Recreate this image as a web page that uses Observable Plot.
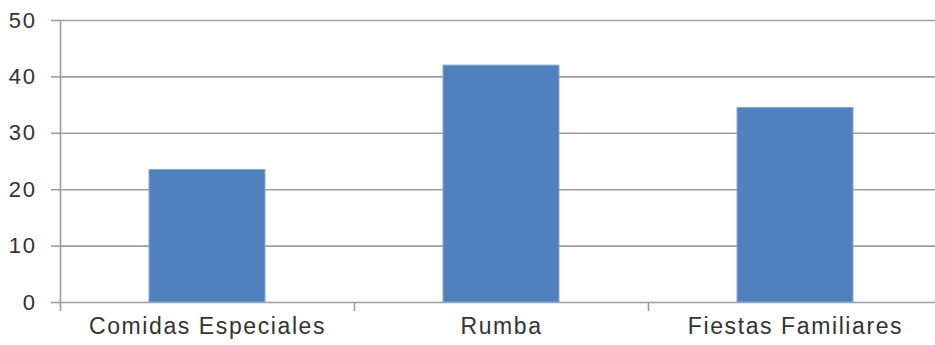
<!DOCTYPE html>
<html>
<head>
<meta charset="utf-8">
<script src="https://cdn.jsdelivr.net/npm/d3@7"></script>
<script src="https://cdn.jsdelivr.net/npm/@observablehq/plot@0.6"></script>
<style>
  html, body { margin: 0; padding: 0; background: #fff; }
  svg text { letter-spacing: 1.6px; }
</style>
</head>
<body>
<div id="chart"></div>
<script>
const categories = ["Comidas Especiales", "Rumba", "Fiestas Familiares"];
const values = [23.5, 42.0, 34.5];
const yTicks = [0, 10, 20, 30, 40, 50];

const data = categories.map((c, i) => ({category: c, value: values[i]}));

const xRange = [60, 942];
const step = (xRange[1] - xRange[0]) / categories.length;
const grid = "#9d9d9d";
const textColor = "#333333";

const chart = Plot.plot({
  width: 935,
  height: 345,
  marginLeft: 60,
  marginRight: 0,
  marginTop: 20,
  marginBottom: 43,
  style: {fontFamily: "'Liberation Sans', Arial, sans-serif", color: textColor, background: "#fff"},
  x: {type: "band", domain: categories, range: xRange, padding: 0},
  y: {domain: [0, 50]},
  marks: [
    Plot.ruleY(yTicks, {stroke: grid, strokeWidth: 1.6}),
    Plot.barY(data, {x: "category", y: "value", fill: "#4f81bd", stroke: "#89a9d6", strokeWidth: 1, insetLeft: 89, insetRight: 89}),
    Plot.ruleX([...categories], {x: d => d, y1: 0, y2: -1.6, dx: -step / 2, stroke: grid, strokeWidth: 1.6}),
    Plot.ruleX([categories[0]], {x: d => d, y1: 0, y2: 50, dx: -step / 2, stroke: grid, strokeWidth: 1.6}),
    Plot.axisY({ticks: yTicks, tickSize: 9, tickPadding: 15, fontSize: 22, stroke: grid, strokeWidth: 1.6, label: null, fill: textColor}),
    Plot.axisX({tickSize: 0, tickPadding: 15, fontSize: 23, label: null, fill: textColor})
  ]
});
document.getElementById("chart").appendChild(chart);
</script>
</body>
</html>
